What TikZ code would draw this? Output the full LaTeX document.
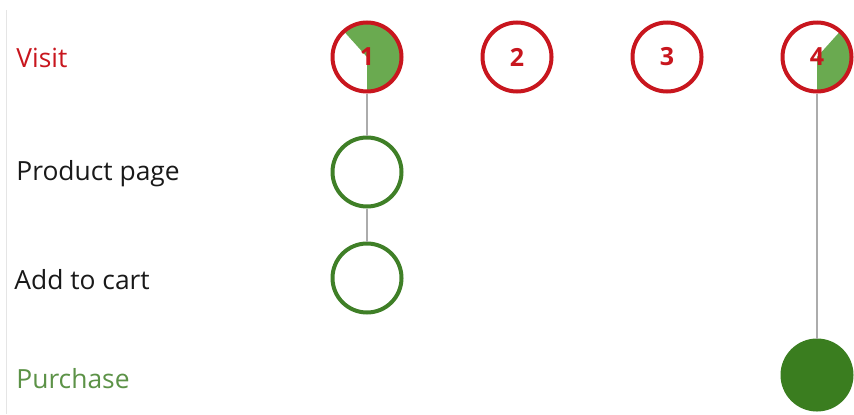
\documentclass[tikz,border=0pt]{standalone}
\usepackage{fontspec}
\setmainfont{Open Sans}
\usepackage{tikz}
\usetikzlibrary{positioning}

\definecolor{visitred}{HTML}{C8161E}
\definecolor{stepgreen}{HTML}{3F7F27}
\definecolor{piegreen}{HTML}{6AAA50}
\definecolor{buygreen}{HTML}{3A7D1F}

\begin{document}
\begin{tikzpicture}[
    x=0.5pt, y=0.5pt,
    node distance=75pt, on grid,
    dot/.style={circle, inner sep=0pt, minimum size=34.5pt, line width=2pt},
    visitdot/.style={dot, draw=visitred, text=visitred, font=\bfseries\fontsize{12.5}{12.5}\selectfont},
    stepdot/.style={dot, draw=stepgreen},
    buydot/.style={dot, fill=buygreen, draw=buygreen},
    share/.style={path picture={
        \fill[piegreen] (path picture bounding box.center) -- ++(-90:20pt)
            arc[start angle=-90, end angle=#1, radius=20pt] -- cycle;}},
    rowlabel/.style={anchor=west, inner sep=0pt, font=\fontsize{13.2}{13.2}\selectfont},
    link/.style={line width=1pt, color=gray!65}
]
\useasboundingbox (0,0) rectangle (854,414);

% faint frame line on the left
\draw[gray!20, line width=0.5pt] (6,404) -- (6,0);

% Row labels
\node[rowlabel, text=visitred] (lvisit) at (16,356) {Visit};
\node[rowlabel, text=black!90] (lprod) at (16,240) {Product page};
\node[rowlabel, text=black!90] (lcart) at (14,134) {Add to cart};
\node[rowlabel, text=stepgreen!85!white] (lbuy) at (16,35) {Purchase};

% Visits
\node[visitdot, share=132] (v1) at (367,357) {1};
\node[visitdot, right=of v1] (v2) {2};
\node[visitdot, right=of v2] (v3) {3};
\node[visitdot, share=48, right=of v3] (v4) {4};

% Funnel steps
\node[stepdot] (prod1) at (367,242) {};
\node[stepdot] (cart1) at (367,136) {};
\node[buydot] (buy4) at (817,39) {};

% Connectors
\draw[link] (v1) -- (prod1);
\draw[link] (prod1) -- (cart1);
\draw[link] (v4) -- (buy4);

\end{tikzpicture}
\end{document}
